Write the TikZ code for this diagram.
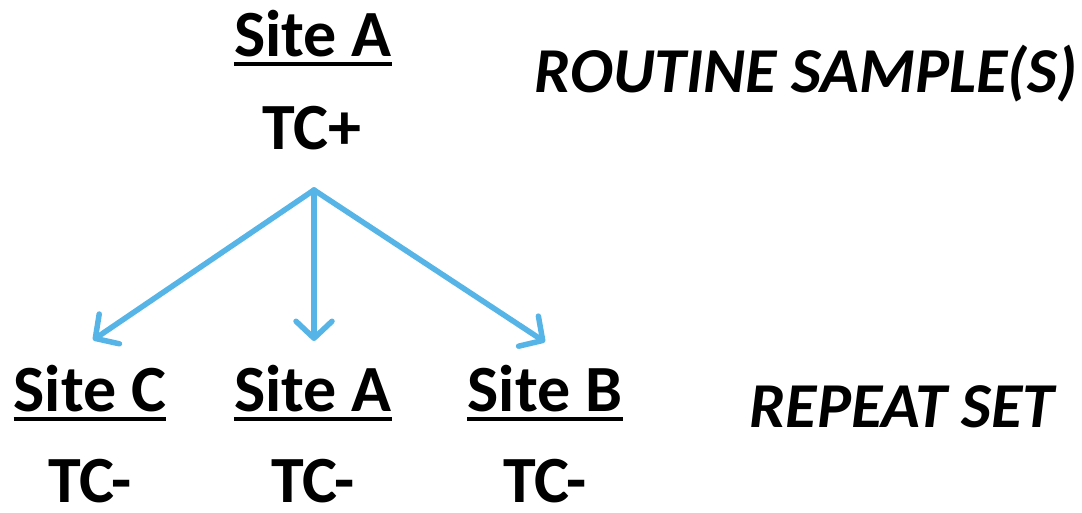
\documentclass[tikz,border=0pt]{standalone}
\usepackage{fontspec}
\setmainfont{Carlito}
\usetikzlibrary{arrows.meta}
\definecolor{arrowblue}{HTML}{56B5E6}
\begin{document}
\begin{tikzpicture}[x=1pt,y=-1pt,
  lbl/.style={inner sep=0pt,anchor=base,text depth=0pt,font=\fontsize{66}{70}\selectfont\bfseries},
  tag/.style={inner sep=0pt,anchor=base,text depth=0pt,font=\fontsize{64}{68}\selectfont\bfseries\itshape},
  uline/.style={line width=3.5pt},
  link/.style={draw=arrowblue,line width=5.5pt,line cap=round,
    -{Straight Barb[length=17pt,width=36pt,line cap=round,line join=round]}}]
\useasboundingbox (0,0) rectangle (1082,512);
% top sample
\node[lbl] (siteA) at (313,56) {Site A};
\node[lbl] (tcplus) at (312,149) {TC+};
\node[tag] (routine) at (806,92) {ROUTINE SAMPLE(S)};
% repeat set
\node[lbl] (siteC2) at (90,411) {Site C};
\node[lbl] (siteA2) at (313,411) {Site A};
\node[lbl] (siteB2) at (545,411) {Site B};
\node[lbl] (tcC) at (90,502) {TC-};
\node[lbl] (tcA) at (313,502) {TC-};
\node[lbl] (tcB) at (545,502) {TC-};
\node[tag] (repeat) at (902,427) {REPEAT SET};
% underlines
\foreach \n in {siteA,siteC2,siteA2,siteB2}
  \draw[uline] ([yshift=-8pt]\n.base west) -- ([yshift=-8pt]\n.base east);
% arrows
\coordinate (fork) at (314,190);
\coordinate (tipC) at (93,340);
\coordinate (tipA) at (314,341);
\coordinate (tipB) at (545,342);
\draw[link] (fork) -- (tipC);
\draw[link] (fork) -- (tipA);
\draw[link] (fork) -- (tipB);
\end{tikzpicture}
\end{document}
